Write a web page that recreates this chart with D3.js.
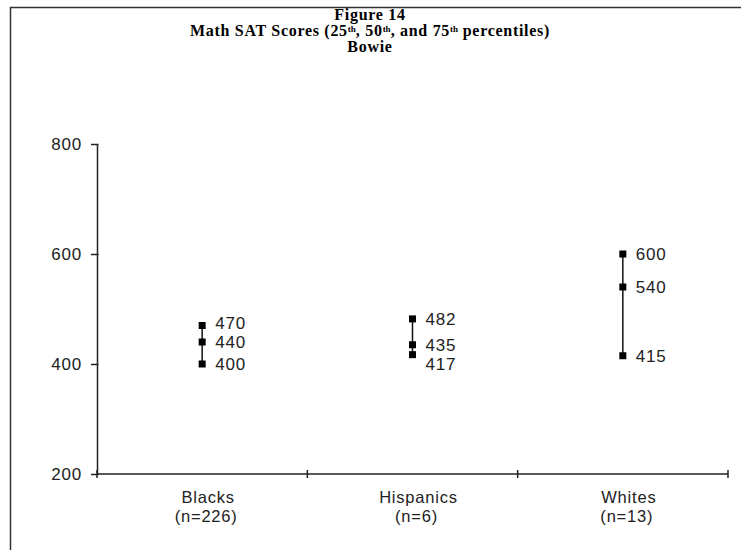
<!DOCTYPE html>
<html>
<head>
<meta charset="utf-8">
<script src="https://cdn.jsdelivr.net/npm/d3@7"></script>
<style>
  html, body { margin: 0; padding: 0; background: #fff; }
  svg { display: block; }
</style>
</head>
<body>
<svg id="chart" width="741" height="550"></svg>
<script>
const categories = ["Blacks", "Hispanics", "Whites"];
const sampleSizes = ["(n=226)", "(n=6)", "(n=13)"];
const p25 = [400, 417, 415];
const p50 = [440, 435, 540];
const p75 = [470, 482, 600];
const yTicks = [200, 400, 600, 800];

(function () {
const svg = d3.select("#chart");
const W = 741, H = 550;
const mLeft = 97, mRight = 728, mTop = 144, mBottom = 474;

// frame
svg.append("path")
  .attr("d", `M10.5,${H} V7.5 H${W}`)
  .attr("fill", "none").attr("stroke", "#333").attr("stroke-width", 1.5);

// title
const title = svg.append("text")
  .attr("text-anchor", "middle")
  .attr("font-family", "'Liberation Serif', 'Times New Roman', serif")
  .attr("font-weight", "bold").attr("font-size", 16).attr("letter-spacing", 0.7)
  .attr("fill", "#000");
title.append("tspan").attr("x", 370).attr("y", 20).text("Figure 14");
const t2 = title.append("tspan").attr("x", 370).attr("y", 36);
t2.append("tspan").text("Math SAT Scores (25");
t2.append("tspan").attr("font-size", 9).attr("letter-spacing", 0).attr("dy", -4).text("th");
t2.append("tspan").attr("dy", 4).text(", 50");
t2.append("tspan").attr("font-size", 9).attr("letter-spacing", 0).attr("dy", -4).text("th");
t2.append("tspan").attr("dy", 4).text(", and 75");
t2.append("tspan").attr("font-size", 9).attr("letter-spacing", 0).attr("dy", -4).text("th");
t2.append("tspan").attr("dy", 4).text(" percentiles)");
title.append("tspan").attr("x", 370).attr("y", 52).text("Bowie");

const x = d3.scaleBand().domain(categories).range([mLeft, mRight]).padding(0);
const y = d3.scaleLinear().domain([200, 800]).range([mBottom, mTop]);

const fontFam = "'Liberation Sans', Arial, sans-serif";

// y axis
const yAxis = svg.append("g")
  .attr("transform", `translate(${mLeft},0)`)
  .call(d3.axisLeft(y).tickValues(yTicks).tickSize(6).tickSizeOuter(0).tickPadding(9));
yAxis.select(".domain").attr("stroke", "#222").attr("stroke-width", 1.5);
yAxis.selectAll(".tick line").attr("stroke", "#222").attr("stroke-width", 1.5).attr("x1", 1.5);
yAxis.selectAll(".tick text")
  .attr("font-family", fontFam).attr("font-size", 17).attr("letter-spacing", 0.8)
  .attr("fill", "#222");

// x axis line
svg.append("line")
  .attr("x1", mLeft).attr("x2", mRight).attr("y1", y(200)).attr("y2", y(200))
  .attr("stroke", "#222").attr("stroke-width", 1.5);
const bounds = [x(categories[0])].concat(categories.map(c => x(c) + x.bandwidth()));
svg.selectAll(".xb").data(bounds).enter().append("line")
  .attr("x1", d => d).attr("x2", d => d)
  .attr("y1", y(200) - 4).attr("y2", y(200) + 4)
  .attr("stroke", "#222").attr("stroke-width", 1.5);

// x labels
const xl = svg.selectAll(".xl").data(categories).enter().append("text")
  .attr("text-anchor", "middle")
  .attr("font-family", fontFam).attr("font-size", 16.5).attr("letter-spacing", 0.8)
  .attr("fill", "#222");
xl.append("tspan").attr("x", d => x(d) + x.bandwidth() / 2 + 6).attr("y", 503).text(d => d);
xl.append("tspan").attr("x", d => x(d) + x.bandwidth() / 2 + 4).attr("y", 521.5).text((d, i) => sampleSizes[i]);

// data
categories.forEach((c, i) => {
  const cx = x(c) + x.bandwidth() / 2;
  svg.append("line")
    .attr("x1", cx).attr("x2", cx)
    .attr("y1", y(p25[i])).attr("y2", y(p75[i]))
    .attr("stroke", "#111").attr("stroke-width", 1.5);
  const vals = [p75[i], p50[i], p25[i]];
  vals.forEach(v => {
    svg.append("rect")
      .attr("x", cx - 3.5).attr("y", y(v) - 3.5)
      .attr("width", 7).attr("height", 7).attr("fill", "#000");
  });
  const ly = vals.map(v => y(v));
  const gap = 19;
  if (ly[1] - ly[0] < gap) ly[0] = ly[1] - gap;
  if (ly[2] - ly[1] < gap) ly[2] = ly[1] + gap;
  vals.forEach((v, k) => {
    svg.append("text")
      .attr("x", cx + 13).attr("y", ly[k]).attr("dy", "0.36em")
      .attr("font-family", fontFam).attr("font-size", 17).attr("letter-spacing", 0.8)
      .attr("fill", "#222").text(v);
  });
});
})();
</script>
</body>
</html>
